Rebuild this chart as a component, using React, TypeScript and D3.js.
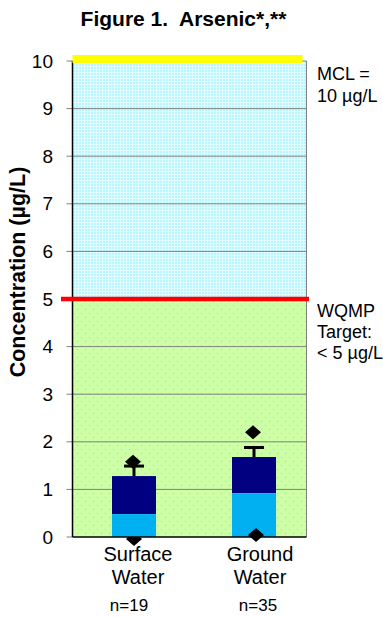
import React from "react";
import * as d3 from "d3";

// Arsenic concentrations by source type
const categories = ["Surface Water", "Ground Water"];
const categoryLines = [["Surface", "Water"], ["Ground", "Water"]];
const sampleCounts = ["n=19", "n=35"];
const medianValues = [0.48, 0.92];
const meanValues = [1.28, 1.68];
const errorTop = [1.49, 1.88];
const maxValues = [1.58, 2.2];
const minValues = [0.0, 0.04];
const yTicks = [0, 1, 2, 3, 4, 5, 6, 7, 8, 9, 10];
const mcl = 10;
const target = 5;

const W = 383;
const H = 617;
const plot = { left: 72.5, right: 306.5, top: 61, bottom: 537 };
const font = "'Liberation Sans', Arial, Helvetica, sans-serif";

export default function App() {
  const y = d3.scaleLinear().domain([0, 10]).range([plot.bottom, plot.top]);
  const x = d3.scaleBand<string>().domain(categories).range([74, 314]).padding(0);
  const cx = (c: string) => (x(c) as number) + x.bandwidth() / 2;
  const barW = 44;
  const capW = 20;

  const diamond = (px: number, py: number, key: string) => (
    <path
      key={key}
      d={`M${px},${py - 7} L${px + 8},${py} L${px},${py + 7} L${px - 8},${py} Z`}
      fill="#000"
    />
  );

  return (
    <svg
      width={W}
      height={H}
      style={{ position: "absolute", left: 0, top: 0, background: "#fff" }}
      fontFamily={font}
    >
      <defs>
        <pattern id="cyanGrid" width="3" height="3" patternUnits="userSpaceOnUse">
          <rect width="3" height="3" fill="#b9f5ff" />
          <rect x="0" y="0" width="3" height="1" fill="#e2fdff" />
          <rect x="0" y="0" width="1" height="3" fill="#e2fdff" />
        </pattern>
        <pattern id="greenDots" width="8" height="8" patternUnits="userSpaceOnUse">
          <rect width="8" height="8" fill="#ccffa6" />
          <rect x="1" y="1" width="1" height="1" fill="#9be870" />
          <rect x="5" y="5" width="1" height="1" fill="#9be870" />
        </pattern>
      </defs>

      {/* title */}
      <text
        x={183.5}
        y={26}
        textAnchor="middle"
        fontSize={21}
        fontWeight="bold"
        style={{ whiteSpace: "pre" }}
      >
        {"Figure 1.  Arsenic*,**"}
      </text>

      {/* background bands */}
      <rect
        x={plot.left}
        y={y(mcl)}
        width={plot.right - plot.left}
        height={y(target) - y(mcl)}
        fill="url(#cyanGrid)"
      />
      <rect
        x={plot.left}
        y={y(target)}
        width={plot.right - plot.left}
        height={y(0) - y(target)}
        fill="url(#greenDots)"
      />

      {/* gridlines and ticks */}
      {yTicks.map((t) => (
        <g key={t}>
          {t > 0 && (
            <line x1={plot.left} x2={plot.right} y1={y(t)} y2={y(t)} stroke="#808080" strokeWidth={1} />
          )}
          <line x1={plot.left - 6} x2={plot.left} y1={y(t)} y2={y(t)} stroke="#808080" strokeWidth={1} />
          <text x={53} y={y(t) + 6.5} textAnchor="end" fontSize={19}>
            {t}
          </text>
        </g>
      ))}

      {/* right border */}
      <line x1={plot.right} x2={plot.right} y1={plot.top} y2={plot.bottom} stroke="#808080" strokeWidth={1} />

      {/* markers drawn beneath the bars */}
      {diamond(cx(categories[0]), y(minValues[0]) + 2, "min-0")}

      {/* stacked bars */}
      {categories.map((c, i) => (
        <g key={c}>
          <rect x={cx(c) - barW / 2} y={y(meanValues[i])} width={barW} height={y(medianValues[i]) - y(meanValues[i])} fill="#000080" />
          <rect x={cx(c) - barW / 2} y={y(medianValues[i])} width={barW} height={y(0) - y(medianValues[i])} fill="#00b0f0" />
        </g>
      ))}

      {/* max markers */}
      {categories.map((c, i) => diamond(cx(c) - 1, y(maxValues[i]), "max-" + i))}

      {/* error bars */}
      {categories.map((c, i) => (
        <g key={"err-" + c} stroke="#000" strokeWidth={3}>
          <line x1={cx(c)} x2={cx(c)} y1={y(meanValues[i])} y2={y(errorTop[i])} />
          <line x1={cx(c) - capW / 2} x2={cx(c) + capW / 2} y1={y(errorTop[i])} y2={y(errorTop[i])} />
        </g>
      ))}

      {/* markers drawn above the bars */}
      {diamond(cx(categories[1]) + 2, y(minValues[1]), "min-1")}

      {/* axes */}
      <line x1={plot.left} x2={plot.left} y1={plot.top} y2={plot.bottom} stroke="#000" strokeWidth={1.5} />
      <line x1={plot.left} x2={plot.right} y1={plot.bottom} y2={plot.bottom} stroke="#000" strokeWidth={1.5} />

      {/* reference lines */}
      <line x1={plot.left} x2={plot.right - 4} y1={y(mcl) - 2} y2={y(mcl) - 2} stroke="#ffff00" strokeWidth={8} />
      <line x1={61} x2={309} y1={y(target)} y2={y(target)} stroke="#ff0000" strokeWidth={4.5} />

      {/* reference labels */}
      <text x={317} fontSize={18}>
        <tspan x={317} y={80}>MCL =</tspan>
        <tspan x={317} y={102}>10 µg/L</tspan>
      </text>
      <text x={317} fontSize={18}>
        <tspan x={317} y={317}>WQMP</tspan>
        <tspan x={317} y={338}>Target:</tspan>
        <tspan x={317} y={359}>&lt; 5 µg/L</tspan>
      </text>

      {/* category labels */}
      {categories.map((c, i) => (
        <g key={"lab-" + c}>
          <text x={cx(c) + 4 + i * 2} y={561} textAnchor="middle" fontSize={20}>
            {categoryLines[i][0]}
          </text>
          <text x={cx(c) + 4 + i * 2} y={584} textAnchor="middle" fontSize={20}>
            {categoryLines[i][1]}
          </text>
          <text x={cx(c) + (i === 0 ? -5 : 4)} y={611} textAnchor="middle" fontSize={17}>
            {sampleCounts[i]}
          </text>
        </g>
      ))}

      {/* y-axis title */}
      <text
        transform={`translate(25, 272) rotate(-90)`}
        textAnchor="middle"
        fontSize={21.5}
        fontWeight="bold"
      >
        Concentration (µg/L)
      </text>
    </svg>
  );
}
